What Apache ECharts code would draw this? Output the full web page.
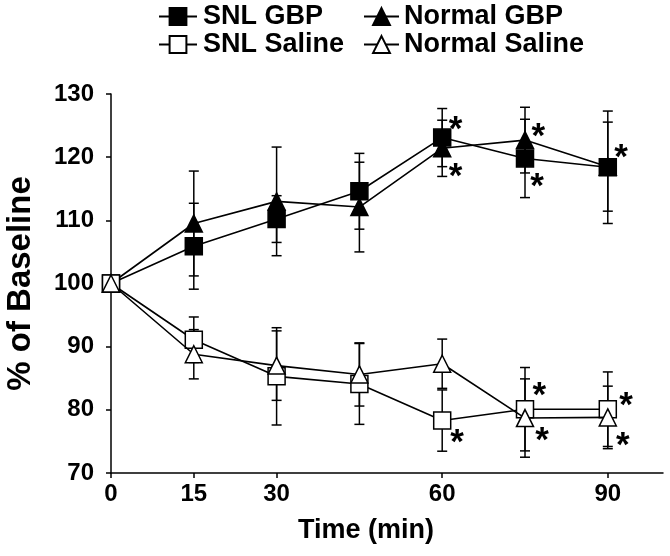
<!DOCTYPE html>
<html>
<head>
<meta charset="utf-8">
<script src="https://cdn.jsdelivr.net/npm/echarts@6/dist/echarts.min.js"></script>
<style>html,body{margin:0;padding:0;background:#fff}#c{width:670px;height:556px}</style>
</head>
<body>
<div id="c"></div>
<script>
// ---- data ----
var times = [0, 15, 30, 45, 60, 75, 90];
var xTickValues = [0, 15, 30, 60, 90];
var yTicks = [70, 80, 90, 100, 110, 120, 130];

var snlGbp = [100, 105.9, 110.2, 114.6, 123.1, 119.8, 118.4];
var snlGbpErr = [0, 6.8, 3.7, 6.0, 4.6, 6.2, 8.9];
var normalGbp = [100, 109.5, 113.0, 112.1, 121.4, 122.7, 118.5];
var normalGbpErr = [0, 8.3, 8.6, 7.1, 4.45, 5.2, 7.05];
var snlSaline = [100, 91.1, 85.3, 84.1, 78.3, 80.1, 80.1];
var snlSalineErr = [0, 3.6, 7.7, 6.4, 4.85, 6.6, 5.9];
var normalSaline = [100, 88.8, 87.0, 85.6, 87.3, 78.7, 78.8];
var normalSalineErr = [0, 3.9, 5.5, 5.0, 3.9, 6.2, 4.95];

// significance asterisks [time, value]
var sigMarks = [[62.4, 125.6], [62.4, 118.3], [77.4, 124.6], [77.2, 116.7], [92.4, 121.3],
                [62.7, 76.1], [77.6, 83.5], [78.1, 76.4], [93.3, 81.9], [92.7, 75.6]];

var FONT = 'Arial, "Liberation Sans", Helvetica, sans-serif';

function pts(vals) { return times.map(function (t, i) { return [t, vals[i]]; }); }
function errData(vals, errs) {
  var out = [];
  times.forEach(function (t, i) { if (errs[i] > 0) out.push([t, vals[i] - errs[i], vals[i] + errs[i]]); });
  return out;
}
function errSeries(vals, errs) {
  return {
    type: 'custom', z: 1, silent: true,
    data: errData(vals, errs),
    encode: { x: 0, y: [1, 2] },
    renderItem: function (params, api) {
      var x = api.value(0);
      var lo = api.coord([x, api.value(1)]);
      var hi = api.coord([x, api.value(2)]);
      var w = 5;
      var st = { stroke: '#000', lineWidth: 1.5, fill: null };
      return { type: 'group', children: [
        { type: 'line', shape: { x1: lo[0], y1: lo[1], x2: hi[0], y2: hi[1] }, style: st },
        { type: 'line', shape: { x1: lo[0] - w, y1: lo[1], x2: lo[0] + w, y2: lo[1] }, style: st },
        { type: 'line', shape: { x1: hi[0] - w, y1: hi[1], x2: hi[0] + w, y2: hi[1] }, style: st }
      ]};
    }
  };
}
function lineSeries(name, vals, symbol, filled, z) {
  return {
    name: name, type: 'line', data: pts(vals), z: z,
    symbol: symbol, symbolSize: 17, showAllSymbol: true,
    lineStyle: { color: '#000', width: 1.6 },
    itemStyle: { color: filled ? '#000' : '#fff', borderColor: '#000', borderWidth: 1.5, opacity: 1 },
    emphasis: { disabled: true }
  };
}

var chart = echarts.init(document.getElementById('c'), null, { renderer: 'canvas' });
chart.setOption({
  animation: false,
  backgroundColor: '#fff',
  textStyle: { fontFamily: FONT },
  grid: { left: 111, right: 7, top: 94, bottom: 83, containLabel: false, outerBoundsMode: 'none' },
  legend: [
    { data: ['SNL GBP', 'SNL Saline'], orient: 'vertical', left: 158, top: 3, padding: 0,
      itemWidth: 38, itemHeight: 21, itemGap: 1,
      textStyle: { fontSize: 27, fontWeight: 'bold', color: '#000', fontFamily: FONT, padding: [0, 0, 0, 1] } },
    { data: ['Normal GBP', 'Normal Saline'], orient: 'vertical', left: 363, top: 3, padding: 0,
      itemWidth: 35, itemHeight: 21, itemGap: 1,
      textStyle: { fontSize: 27, fontWeight: 'bold', color: '#000', fontFamily: FONT } }
  ],
  xAxis: {
    type: 'value', min: 0, max: 100,
    name: 'Time (min)', nameLocation: 'middle', nameGap: 44,
    nameTextStyle: { fontSize: 27, fontWeight: 'bold', color: '#000', fontFamily: FONT, padding: [0, 42, 0, 0] },
    axisLine: { show: true, lineStyle: { color: '#000', width: 1.5 } },
    axisTick: { show: true, length: 5, lineStyle: { color: '#000', width: 1.5 }, customValues: xTickValues },
    axisLabel: { fontSize: 24, fontWeight: 'bold', color: '#000', fontFamily: FONT, margin: 9, customValues: xTickValues },
    splitLine: { show: false }
  },
  yAxis: {
    type: 'value', min: yTicks[0], max: yTicks[yTicks.length - 1], interval: 10,
    name: '% of Baseline', nameLocation: 'middle', nameGap: 74, nameRotate: 90,
    nameTextStyle: { fontSize: 33, fontWeight: 'bold', color: '#000', fontFamily: FONT },
    axisLine: { show: true, lineStyle: { color: '#000', width: 1.5 } },
    axisTick: { show: true, length: 5, lineStyle: { color: '#000', width: 1.5 } },
    axisLabel: { fontSize: 24, fontWeight: 'bold', color: '#000', fontFamily: FONT, margin: 17 },
    splitLine: { show: false }
  },
  series: [
    errSeries(normalGbp, normalGbpErr),
    errSeries(snlGbp, snlGbpErr),
    errSeries(snlSaline, snlSalineErr),
    errSeries(normalSaline, normalSalineErr),
    lineSeries('Normal GBP', normalGbp, 'triangle', true, 2),
    lineSeries('SNL GBP', snlGbp, 'rect', true, 3),
    lineSeries('SNL Saline', snlSaline, 'rect', false, 4),
    lineSeries('Normal Saline', normalSaline, 'triangle', false, 5),
    {
      type: 'custom', data: sigMarks, z: 6, silent: true,
      encode: { x: 0, y: 1 },
      renderItem: function (params, api) {
        var p = api.coord([api.value(0), api.value(1)]);
        return { type: 'text', x: p[0], y: p[1] + 9,
          style: { text: '*', fill: '#000', font: 'bold 35px ' + FONT, textAlign: 'center', textVerticalAlign: 'middle' } };
      }
    }
  ]
});
</script>
</body>
</html>
